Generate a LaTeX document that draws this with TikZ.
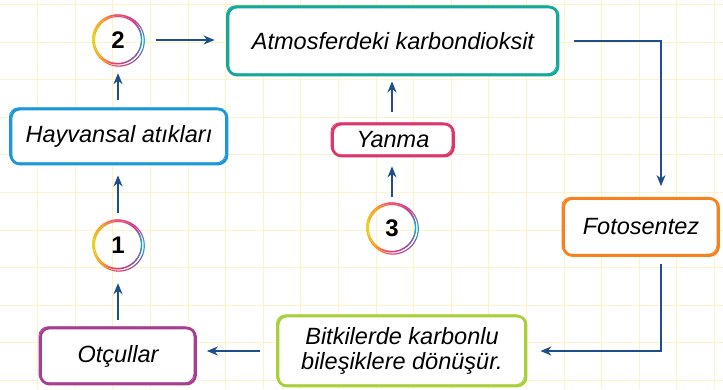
\documentclass[tikz,border=0pt]{standalone}
\usepackage{fontspec}
\setmainfont{Liberation Sans}
\usetikzlibrary{arrows.meta}
\definecolor{gridc}{HTML}{FDF3C8}
\definecolor{arrc}{HTML}{1F4E8C}
\definecolor{cteal}{HTML}{13A89B}
\definecolor{cblue}{HTML}{1B98D5}
\definecolor{cpink}{HTML}{E0356B}
\definecolor{corange}{HTML}{F5821F}
\definecolor{clime}{HTML}{A9CF3B}
\definecolor{cmag}{HTML}{A93D8F}
\definecolor{rA}{HTML}{1BA6D3}
\definecolor{rB}{HTML}{C43C91}
\definecolor{rC}{HTML}{EF4B6B}
\definecolor{rD}{HTML}{F5A623}
\definecolor{rE}{HTML}{E5D320}
\definecolor{rF}{HTML}{F9A11B}
\definecolor{rG}{HTML}{E8366F}
\definecolor{rH}{HTML}{8A4FA3}
\tikzset{
  boxn/.style={draw=#1, rounded corners=9pt, line width=2.8pt, fill=white,
    align=center, font=\itshape\fontsize{23.5}{25}\selectfont, inner sep=2pt,
    postaction={draw=#1, line width=0.8pt, rounded corners=9pt, transform canvas={xshift=-1.6pt,yshift=1.2pt}}},
  numn/.style={circle, minimum size=50pt, inner sep=0pt, font=\bfseries\fontsize{24}{24}\selectfont},
  arr/.style={draw=arrc, line width=1.3pt, -{Stealth[length=11pt,width=9pt,inset=3.5pt]}},
}
\newcommand\rainbowring[1]{%
  \foreach \r/\dx/\dy in {23.5/0/0, 25.5/0.8/-0.6, 24.5/-0.9/0.6}{%
    \foreach \a/\ca/\cb in {0/rA/rB,45/rB/rC,90/rC/rD,135/rD/rE,180/rE/rF,225/rF/rG,270/rG/rH,315/rH/rA}{%
      \foreach \t in {0,...,8}{%
        \pgfmathtruncatemacro\p{100-\t*12.5}%
        \pgfmathsetmacro\ang{\a+\t*5}%
        \draw[line width=1.1pt, color=\ca!\p!\cb] ([shift={(\ang:\r)}]#1.center) ++(\dx,\dy) arc[start angle=\ang, delta angle=5.6, radius=\r];
      }%
    }%
  }%
}
\begin{document}
\begin{tikzpicture}[x=1pt,y=1pt]
\useasboundingbox (0,0) rectangle (723,-389);
\fill[white] (0,0) rectangle (723,-389);
\foreach \i in {1,...,19} \draw[gridc, line width=0.9pt] (\i*37.6,0) -- (\i*37.6,-389);
\foreach \i in {0,...,10} \draw[gridc, line width=0.9pt] (0,-4.5-\i*37.6) -- (723,-4.5-\i*37.6);

\node[boxn=cteal, minimum width=330pt, minimum height=68pt] (atm) at (393,-41) {Atmosferdeki karbondioksit};
\node[boxn=cblue, minimum width=216pt, minimum height=55pt] (hay) at (119,-136.5) {Hayvansal atıkları};
\node[boxn=cpink, minimum width=121pt, minimum height=32pt] (yan) at (393,-140) {Yanma};
\node[boxn=corange, minimum width=155pt, minimum height=57pt] (foto) at (641,-227) {Fotosentez};
\node[boxn=clime, minimum width=248pt, minimum height=70pt] (bit) at (402,-351) {Bitkilerde karbonlu\\bileşiklere dönüşür.};
\node[boxn=cmag, minimum width=155pt, minimum height=56pt] (otc) at (118,-356) {Otçullar};

\node[numn] (c2) at (118,-40) {2};
\node[numn] (c1) at (118,-245) {1};
\node[numn] (c3) at (392,-228) {3};
\rainbowring{c2}
\rainbowring{c1}
\rainbowring{c3}

\draw[arr, shorten <=13pt, shorten >=12pt] (c2.east) -- (c2.east -| atm.west);
\draw[arr, shorten <=8pt, shorten >=8pt] (c2 |- hay.north) -- (c2.south);
\draw[arr, shorten <=7pt, shorten >=10pt] (c1.north) -- (c1 |- hay.south);
\draw[arr, shorten <=7pt, shorten >=13pt] (c1 |- otc.north) -- (c1.south);
\draw[arr, shorten <=17pt, shorten >=10pt] (bit.west) -- (bit.west -| otc.east);
\draw[arr, shorten <=7pt, shorten >=13pt] ([xshift=20pt]foto.south) -- ([xshift=20pt]foto.south |- bit.east) -- (bit.east);
\draw[arr, shorten <=15pt, shorten >=11pt] (atm.east) -| ([xshift=20pt]foto.north);
\draw[arr, shorten <=6pt, shorten >=9pt] (c3.north) -- (c3 |- yan.south);
\draw[arr, shorten <=11pt, shorten >=5pt] (c3 |- yan.north) -- (c3 |- atm.south);
\end{tikzpicture}
\end{document}
